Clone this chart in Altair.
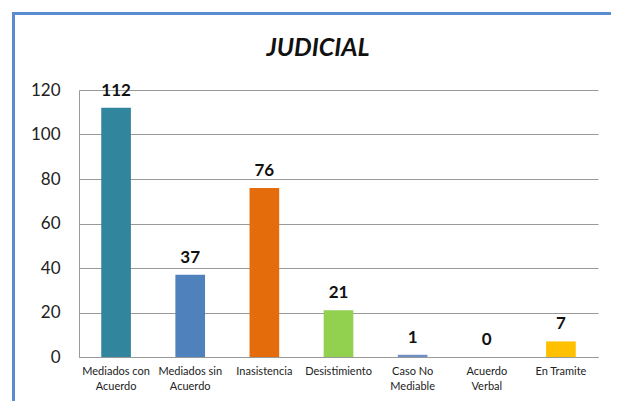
import altair as alt
import pandas as pd

categories = ["Mediados con|Acuerdo", "Mediados sin|Acuerdo", "Inasistencia", "Desistimiento",
              "Caso No|Mediable", "Acuerdo|Verbal", "En Tramite"]
values = [112, 37, 76, 21, 1, 0, 7]
colors = ["#31859c", "#4f81bd", "#e46c0a", "#92d050", "#6f8fc6", "#4f81bd", "#ffc000"]
y_ticks = [0, 20, 40, 60, 80, 100, 120]
title_text = "JUDICIAL"

df = pd.DataFrame({"cat": categories, "val": values, "color": colors})

FONT = "Lato"
W, H = 519, 267

x_enc = alt.X("cat:N", sort=categories, title=None,
              scale=alt.Scale(paddingInner=0.6, paddingOuter=0.3),
              axis=alt.Axis(labelExpr="split(datum.value, '|')", labelAngle=0,
                            labelFont=FONT, labelFontSize=11, labelColor="#222",
                            labelPadding=8, ticks=False, domainColor="#999",
                            labelLineHeight=15, labelBaseline="top"))
y_enc = alt.Y("val:Q", title=None,
              scale=alt.Scale(domain=[0, 120], nice=False),
              axis=alt.Axis(values=y_ticks, labelFont=FONT, labelFontSize=17,
                            labelColor="#222", ticks=False, labelPadding=19,
                            domainColor="#999", gridColor="#999", grid=True))

bars = alt.Chart(df).mark_bar().encode(
    x=x_enc, y=y_enc, color=alt.Color("color:N", scale=None)
)

labels = alt.Chart(df).mark_text(
    font=FONT, fontSize=17, fontWeight="bold", baseline="bottom", dy=-8, color="#111"
).encode(x=alt.X("cat:N", sort=categories), y="val:Q", text="val:Q")

title = alt.Chart(pd.DataFrame({"t": [title_text]})).mark_text(
    font=FONT, fontSize=25, fontWeight="bold", fontStyle="italic", color="#111"
).encode(x=alt.value(239), y=alt.value(-42), text="t:N")

frame_top = alt.Chart(pd.DataFrame({"a": [0]})).mark_rule(
    color="#5b8bd0", strokeWidth=3
).encode(x=alt.value(-65.5), x2=alt.value(545), y=alt.value(-76.5))
frame_left = alt.Chart(pd.DataFrame({"a": [0]})).mark_rule(
    color="#5b8bd0", strokeWidth=3
).encode(x=alt.value(-65.5), y=alt.value(-78), y2=alt.value(330))
frame_right = alt.Chart(pd.DataFrame({"a": [0]})).mark_rule(
    color="#dddddd", strokeWidth=1
).encode(x=alt.value(539.5), y=alt.value(-75), y2=alt.value(330))

chart = alt.layer(bars, labels, title, frame_top, frame_left, frame_right).properties(
    width=W, height=H,
    autosize=alt.AutoSizeParams(type="none"),
    padding={"left": 71, "top": 82, "right": 13, "bottom": 44},
    background="white",
).configure_view(stroke=None)

chart.save("out.html", embed_options={"renderer": "svg", "actions": False})
